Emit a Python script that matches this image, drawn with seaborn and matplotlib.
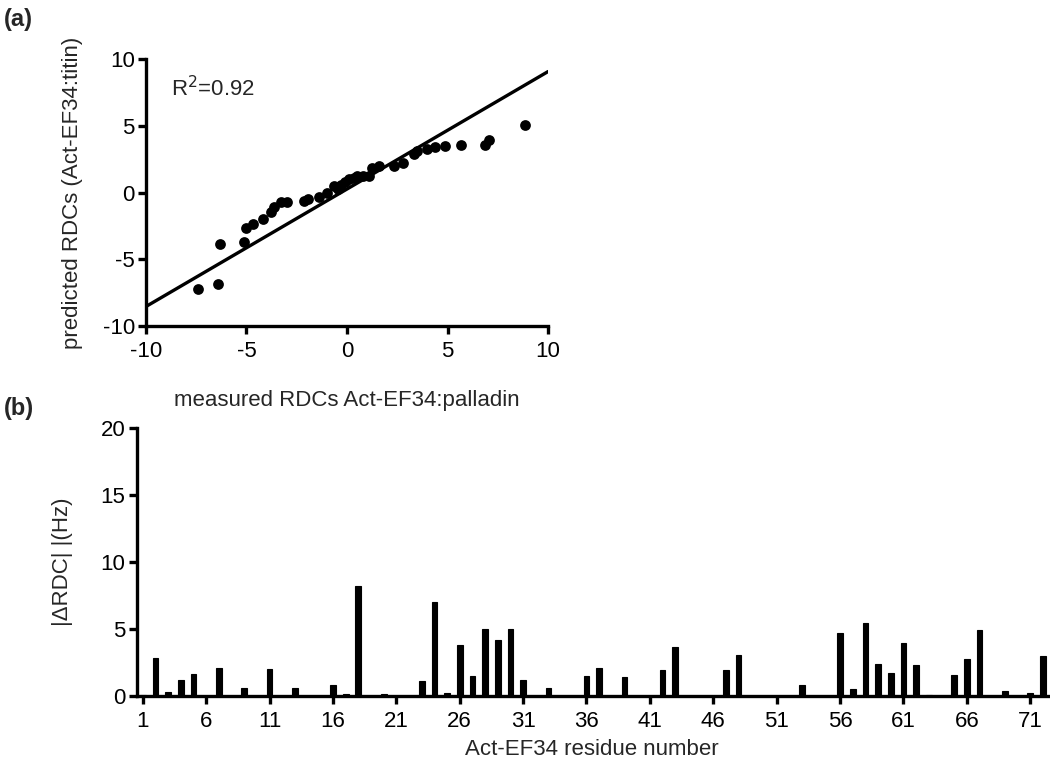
import numpy as np
import pandas as pd
import matplotlib.pyplot as plt
import seaborn as sns

sns.set_theme(style="ticks")
plt.rcParams["font.family"] = ["Liberation Sans", "DejaVu Sans"]
plt.rcParams["font.size"] = 16
plt.rcParams["axes.unicode_minus"] = False

# ---------------------------------------------------------------
# (a) measured vs predicted RDCs
# ---------------------------------------------------------------
measured = [-7.40, -6.42, -6.34, -5.13, -5.00, -4.67, -4.19, -3.76, -3.64, -3.28,
            -3.01, -2.12, -1.94, -1.37, -0.99, -0.66, -0.45, -0.28, -0.08, 0.12,
            0.33, 0.50, 0.78, 1.11, 1.24, 1.57, 2.32, 2.78, 3.31, 3.48,
            3.97, 4.39, 4.85, 5.66, 6.87, 7.07, 8.86]
predicted = [-7.22, -6.88, -3.85, -3.73, -2.63, -2.39, -1.98, -1.46, -1.12, -0.73,
             -0.73, -0.63, -0.49, -0.32, -0.07, 0.49, 0.29, 0.59, 0.78, 0.98,
             1.07, 1.20, 1.20, 1.20, 1.80, 1.95, 2.00, 2.20, 2.85, 3.10,
             3.27, 3.41, 3.46, 3.54, 3.59, 3.90, 5.07]
fit_slope = 0.88
fit_intercept = 0.26
r2_text = "R$^2$=0.92"

# ---------------------------------------------------------------
# (b) |dRDC| per residue
# ---------------------------------------------------------------
residues = [1, 2, 3, 4, 5, 7, 9, 11, 13, 16, 17, 18, 20, 23, 24, 25, 26, 27, 28, 29,
            30, 31, 33, 36, 37, 39, 42, 43, 47, 48, 53, 56, 57, 58, 59, 60, 61, 62,
            63, 65, 66, 67, 69, 71, 72]
delta_rdc = [0.05, 2.85, 0.25, 1.16, 1.59, 2.08, 0.55, 2.00, 0.55, 0.77, 0.12, 8.18, 0.10,
             1.12, 6.99, 0.20, 3.82, 1.49, 4.98, 4.19, 4.98, 1.16, 0.55, 1.46, 2.08, 1.39,
             1.91, 3.62, 1.91, 3.07, 0.77, 4.68, 0.47, 5.43, 2.40, 1.69, 3.94, 2.33,
             0.05, 1.51, 2.75, 4.88, 0.37, 0.22, 3.00]
res_ticks = [1, 6, 11, 16, 21, 26, 31, 36, 41, 46, 51, 56, 61, 66, 71]

fig = plt.figure(figsize=(10.5, 7.63), dpi=100)
ax1 = fig.add_axes([0.139, 0.5727, 0.383, 0.350])
ax2 = fig.add_axes([0.130, 0.0882, 0.868, 0.351])

for ax in (ax1, ax2):
    for side in ("top", "right"):
        ax.spines[side].set_visible(False)
    for side in ("left", "bottom"):
        ax.spines[side].set_linewidth(2.4)
        ax.spines[side].set_color("black")
    ax.tick_params(axis="both", direction="out", length=6, width=2.4,
                   labelsize=16, colors="black")
    ax.tick_params(axis="x", pad=5)
    ax.tick_params(axis="y", pad=2)

df_a = pd.DataFrame({"measured": measured, "predicted": predicted})
sns.scatterplot(data=df_a, x="measured", y="predicted", color="black", s=60,
                edgecolor="black", linewidth=0, ax=ax1, zorder=3)
line_x = np.array([-10, 10])
sns.lineplot(x=line_x, y=fit_slope * line_x + fit_intercept, color="black",
             linewidth=2.4, ax=ax1)
ax1.set_xlim(-10, 10)
ax1.set_ylim(-10, 10)
ax1.set_xticks([-10, -5, 0, 5, 10])
ax1.set_yticks([-10, -5, 0, 5, 10])
ax1.set_xlabel("measured RDCs Act-EF34:palladin", fontsize=16, labelpad=20)
ax1.set_ylabel("predicted RDCs (Act-EF34:titin)", fontsize=16, labelpad=14)
ax1.text(-8.75, 7.8, r2_text, fontsize=16, va="center")

df_b = pd.DataFrame({"residue": residues, "delta": delta_rdc})
ax2.bar(df_b["residue"], df_b["delta"], width=0.45, color="black",
        edgecolor="black", linewidth=0.8)
ax2.set_xlim(0.5, 72.4)
ax2.set_ylim(0, 20)
ax2.set_xticks(res_ticks)
ax2.set_yticks([0, 5, 10, 15, 20])
ax2.set_xlabel("Act-EF34 residue number", fontsize=16, labelpad=5)
ax2.set_ylabel("|ΔRDC| |(Hz)", fontsize=16, labelpad=20)

fig.text(0.004, 0.99, "(a)", fontsize=17, fontweight="bold", va="top")
fig.text(0.004, 0.480, "(b)", fontsize=17, fontweight="bold", va="top")

fig.savefig("out.png", dpi=100)
